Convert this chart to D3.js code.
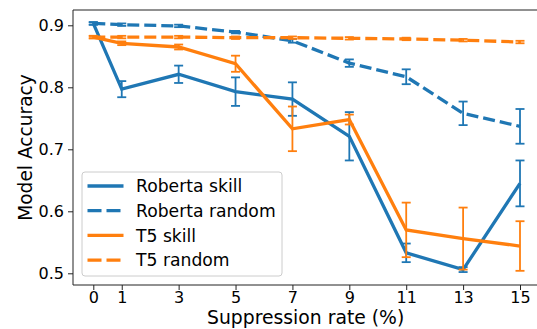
<!DOCTYPE html>
<html>
<head>
<meta charset="utf-8">
<script src="https://cdn.jsdelivr.net/npm/d3@7"></script>
<style>
body{margin:0;background:#fff;}
text{font-family:"DejaVu Sans",sans-serif;fill:#000;}
</style>
</head>
<body>
<svg id="chart" width="537" height="329"></svg>
<script>
'use strict'
// suppression rates (%)
var rates = [0, 1, 3, 5, 7, 9, 11, 13, 15];
var yTicks = [0.5, 0.6, 0.7, 0.8, 0.9];

var robertaSkill    = [0.903, 0.797, 0.821, 0.793, 0.781, 0.721, 0.533, 0.506, 0.645];
var robertaSkillErr = [0.002, 0.013, 0.014, 0.023, 0.027, 0.039, 0.015, 0.004, 0.037];
var robertaRandom    = [0.903, 0.901, 0.899, 0.889, 0.875, 0.839, 0.817, 0.758, 0.737];
var robertaRandomErr = [0.002, 0.002, 0.002, 0.002, 0.003, 0.006, 0.012, 0.019, 0.028];
var t5Skill    = [0.881, 0.871, 0.865, 0.838, 0.733, 0.748, 0.570, 0.556, 0.544];
var t5SkillErr = [0.002, 0.003, 0.004, 0.013, 0.036, 0.008, 0.044, 0.050, 0.040];
var t5Random    = [0.881, 0.881, 0.881, 0.880, 0.880, 0.879, 0.878, 0.876, 0.873];
var t5RandomErr = [0.002, 0.002, 0.002, 0.002, 0.002, 0.002, 0.002, 0.002, 0.002];

var seriesNames = ['Roberta skill', 'Roberta random', 'T5 skill', 'T5 random'];

var blue = '#1f77b4', orange = '#ff7f0e';
var series = [
	{name: seriesNames[0], vals: robertaSkill, err: robertaSkillErr, color: blue, dashed: false}
	,{name: seriesNames[1], vals: robertaRandom, err: robertaRandomErr, color: blue, dashed: true}
	,{name: seriesNames[2], vals: t5Skill, err: t5SkillErr, color: orange, dashed: false}
	,{name: seriesNames[3], vals: t5Random, err: t5RandomErr, color: orange, dashed: true}
];

var svg = d3.select('#chart');
var frame = {left: 73, top: 10, bottom: 285};

var x = d3.scaleLinear().domain([0, 15]).range([93.3, 520]);
var y = d3.scaleLinear().domain([0.5, 0.9]).range([273.3, 25.3]);

// axes
var xAxis = svg.append('g')
	.attr('transform', 'translate(0,' + frame.bottom + ')')
	.call(d3.axisBottom(x).tickValues(rates).tickFormat(d3.format('d')).tickSize(5).tickPadding(2).tickSizeOuter(0));
var yAxis = svg.append('g')
	.attr('transform', 'translate(' + frame.left + ',0)')
	.call(d3.axisLeft(y).tickValues(yTicks).tickFormat(d3.format('.1f')).tickSize(5).tickPadding(4).tickSizeOuter(0));
[xAxis, yAxis].forEach(function(g){
	g.select('.domain').remove();
	g.selectAll('.tick line').attr('stroke', '#222').attr('stroke-width', 1);
	g.selectAll('.tick text').style('font-family', '"DejaVu Sans", sans-serif').style('font-size', '16px').attr('fill', '#000');
});

// spines (right one falls outside the picture)
svg.append('path')
	.attr('d', 'M' + frame.left + ',' + frame.top + 'H540M' + frame.left + ',' + frame.top + 'V' + frame.bottom + 'H540')
	.attr('fill', 'none').attr('stroke', '#222').attr('stroke-width', 1);

// series
var line = d3.line()
	.x(function(d, i){ return x(rates[i]); })
	.y(function(d){ return y(d); });

series.forEach(function(s){
	var g = svg.append('g');
	g.append('path')
		.datum(s.vals)
		.attr('d', line)
		.attr('fill', 'none')
		.attr('stroke', s.color)
		.attr('stroke-width', 3.3)
		.attr('stroke-dasharray', s.dashed ? '12,5' : null);

	var bars = g.selectAll('.err').data(s.vals).enter().append('g').attr('class', 'err');
	bars.append('line')
		.attr('x1', function(d, i){ return x(rates[i]); })
		.attr('x2', function(d, i){ return x(rates[i]); })
		.attr('y1', function(d, i){ return y(d - s.err[i]); })
		.attr('y2', function(d, i){ return y(d + s.err[i]); })
		.attr('stroke', s.color).attr('stroke-width', 1.8);
	[-1, 1].forEach(function(sign){
		bars.append('line')
			.attr('x1', function(d, i){ return x(rates[i]) - 4.5; })
			.attr('x2', function(d, i){ return x(rates[i]) + 4.5; })
			.attr('y1', function(d, i){ return y(d + sign * s.err[i]); })
			.attr('y2', function(d, i){ return y(d + sign * s.err[i]); })
			.attr('stroke', s.color).attr('stroke-width', 1.8);
	});
});

// legend
var legend = svg.append('g').attr('transform', 'translate(82,172)');
legend.append('rect')
	.attr('width', 200).attr('height', 104).attr('rx', 3)
	.attr('fill', '#fff').attr('fill-opacity', 0.8)
	.attr('stroke', '#ccc').attr('stroke-width', 1);
var item = legend.selectAll('.item').data(series).enter().append('g')
	.attr('class', 'item')
	.attr('transform', function(d, i){ return 'translate(0,' + (14 + i * 24.7) + ')'; });
item.append('line')
	.attr('x1', 5.5).attr('x2', 41.5)
	.attr('stroke', function(d){ return d.color; })
	.attr('stroke-width', 3.3)
	.attr('stroke-dasharray', function(d){ return d.dashed ? '14,5' : null; });
item.append('text')
	.attr('x', 54).attr('y', 6.2)
	.style('font-size', '17.2px')
	.text(function(d){ return d.name; });

// axis titles
svg.append('text')
	.attr('x', (93.3 + 520) / 2 - 1).attr('y', 324)
	.attr('text-anchor', 'middle')
	.style('font-size', '18.8px')
	.text('Suppression rate (%)');
svg.append('text')
	.attr('transform', 'translate(32,' + (frame.top + frame.bottom) / 2 + ') rotate(-90)')
	.attr('text-anchor', 'middle')
	.style('font-size', '18.6px')
	.text('Model Accuracy');
</script>
</body>
</html>
